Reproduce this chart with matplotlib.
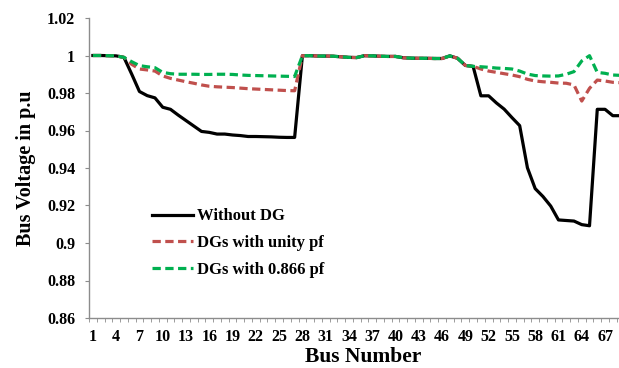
import numpy as np
import matplotlib
matplotlib.use('Agg')
from matplotlib import pyplot as plt
from matplotlib.ticker import FixedLocator

bus = list(range(1, 70))

without_dg = [1.0000, 1.0000, 0.9999, 0.9998, 0.9990, 0.9901, 0.9808, 0.9786, 0.9774, 0.9724,
              0.9713, 0.9682, 0.9653, 0.9624, 0.9595, 0.9590, 0.9581, 0.9581, 0.9576, 0.9573,
              0.9568, 0.9568, 0.9567, 0.9566, 0.9564, 0.9563, 0.9563, 0.9999, 0.9999, 0.9997,
              0.9997, 0.9996, 0.9993, 0.9990, 0.9989, 0.9999, 0.9998, 0.9996, 0.9995, 0.9995,
              0.9988, 0.9986, 0.9985, 0.9985, 0.9984, 0.9984, 0.9998, 0.9985, 0.9947, 0.9942,
              0.9785, 0.9785, 0.9747, 0.9714, 0.9669, 0.9626, 0.9401, 0.9290, 0.9248, 0.9197,
              0.9123, 0.9120, 0.9117, 0.9098, 0.9092, 0.9713, 0.9713, 0.9679, 0.9679]

unity_pf = [1.0000, 1.0000, 0.9999, 0.9998, 0.9990, 0.9953, 0.9928, 0.9923, 0.9917, 0.9891,
            0.9878, 0.9869, 0.9860, 0.9852, 0.9843, 0.9836, 0.9833, 0.9831, 0.9829, 0.9826,
            0.9823, 0.9821, 0.9819, 0.9817, 0.9815, 0.9813, 0.9812, 0.9999, 0.9999, 0.9997,
            0.9997, 0.9996, 0.9993, 0.9990, 0.9989, 0.9999, 0.9998, 0.9996, 0.9995, 0.9995,
            0.9988, 0.9986, 0.9985, 0.9985, 0.9984, 0.9984, 0.9998, 0.9985, 0.9947, 0.9942,
            0.9928, 0.9917, 0.9910, 0.9903, 0.9896, 0.9887, 0.9873, 0.9864, 0.9860, 0.9857,
            0.9853, 0.9852, 0.9843, 0.9757, 0.9825, 0.9869, 0.9864, 0.9857, 0.9855]

pf_0866 = [1.0000, 1.0000, 0.9999, 0.9998, 0.9990, 0.9967, 0.9946, 0.9940, 0.9935, 0.9910,
           0.9903, 0.9900, 0.9900, 0.9900, 0.9899, 0.9899, 0.9900, 0.9900, 0.9899, 0.9896,
           0.9894, 0.9893, 0.9892, 0.9891, 0.9890, 0.9889, 0.9888, 0.9999, 0.9999, 0.9997,
           0.9997, 0.9996, 0.9993, 0.9990, 0.9989, 0.9999, 0.9998, 0.9996, 0.9995, 0.9995,
           0.9988, 0.9986, 0.9985, 0.9985, 0.9984, 0.9984, 0.9998, 0.9985, 0.9947, 0.9942,
           0.9940, 0.9937, 0.9933, 0.9931, 0.9928, 0.9917, 0.9901, 0.9893, 0.9891, 0.9890,
           0.9891, 0.9900, 0.9914, 0.9971, 0.9999, 0.9910, 0.9905, 0.9896, 0.9894]

labels = ['Without DG', 'DGs with unity pf', 'DGs with 0.866 pf']
y_ticks = [0.86, 0.88, 0.9, 0.92, 0.94, 0.96, 0.98, 1.0, 1.02]
y_tick_labels = ['0.86', '0.88', '0.9', '0.92', '0.94', '0.96', '0.98', '1', '1.02']

plt.rcParams['font.family'] = ['Liberation Serif', 'DejaVu Serif']
plt.rcParams['font.weight'] = 'bold'

fig = plt.figure(figsize=(6.19, 3.68), dpi=100)
ax = fig.add_axes([89 / 619, 50 / 368, 530 / 619, 300 / 368])

ax.plot(bus, without_dg, color='black', lw=2.3, label=labels[0], zorder=3)
ax.plot(bus, unity_pf, color='#C0504D', lw=2.3, ls=(0, (2.6, 1.4)), label=labels[1], zorder=4)
ax.plot(bus, pf_0866, color='#00B050', lw=2.3, ls=(0, (2.6, 1.4)), label=labels[2], zorder=5)

ax.set_xlim(0.5, 68.8)
ax.set_ylim(0.86, 1.02)

grey = '#8C8C8C'
for s in ['top', 'right']:
    ax.spines[s].set_visible(False)
for s in ['left', 'bottom']:
    ax.spines[s].set_color(grey)
    ax.spines[s].set_linewidth(1.0)

ax.set_yticks(y_ticks)
ax.set_yticklabels(y_tick_labels)
ax.set_xticks(bus[::3])
ax.set_xticklabels([str(b) for b in bus[::3]])
ax.xaxis.set_minor_locator(FixedLocator(np.arange(0.5, 69, 1)))
ax.tick_params(axis='y', direction='out', length=3, color=grey, labelsize=11.5, pad=7)
ax.tick_params(axis='x', which='major', length=0, labelsize=11.5, pad=8)
ax.tick_params(axis='x', which='minor', direction='out', length=3, color=grey)
for t in ax.get_xticklabels() + ax.get_yticklabels():
    t.set_fontweight('bold')

ax.set_xlabel('Bus Number', fontsize=15.5, fontweight='bold')
ax.xaxis.set_label_coords(0.517, -0.097, transform=ax.transAxes)
ax.xaxis.label.set_va('top')
ax.set_ylabel('Bus Voltage in p.u', fontsize=14.5, fontweight='bold', labelpad=8)

leg = ax.legend(loc='lower left', bbox_to_anchor=(0.09, 0.083), frameon=False,
                prop={'family': 'Liberation Serif', 'weight': 'bold', 'size': 12},
                handlelength=2.5, handletextpad=0.2, labelspacing=0.65)

fig.savefig('out.png', dpi=100)
